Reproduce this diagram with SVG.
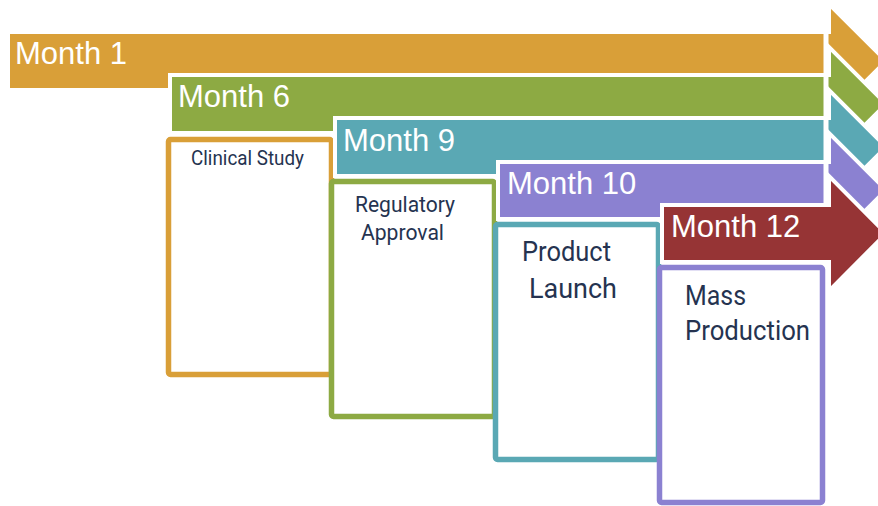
<svg xmlns="http://www.w3.org/2000/svg" width="878" height="506" viewBox="0 0 878 506">
<style>
.arrow{stroke:#fff;stroke-width:4;stroke-linejoin:miter}
.gap{stroke:#fff;stroke-width:5}
.box{fill:#fff;stroke-width:5.5;stroke-linejoin:round}
.lbl{font-family:"Liberation Sans",Arial,sans-serif;font-size:31px;fill:#fff}
.txt{font-family:Roboto,"Noto Sans",sans-serif;fill:#253350}
</style>
<rect width="878" height="506" fill="#fff"/>
<g id="month1">
<path class="arrow" fill="#D99F38" d="M8,32 H829 V4 L886,61 L829,118 V90 H8 Z"/>
<line class="gap" x1="826" y1="34" x2="826" y2="90"/>
<text class="lbl" x="15" y="64">Month 1</text>
</g>
<g id="month6">
<path class="arrow" fill="#8DAA43" d="M170,75 H829 V47 L886,104 L829,161 V133 H170 Z"/>
<line class="gap" x1="826" y1="77" x2="826" y2="133"/>
<text class="lbl" x="178" y="107">Month 6</text>
</g>
<g id="clinical">
<rect class="box" stroke="#D99F38" x="168.5" y="139.5" width="163" height="235" rx="2"/>
<text class="txt" x="191" y="165" font-size="21" textLength="113" lengthAdjust="spacingAndGlyphs">Clinical Study</text>
</g>
<g id="month9">
<path class="arrow" fill="#5AA8B4" d="M335,118 H829 V90 L886,147 L829,204 V176 H335 Z"/>
<line class="gap" x1="826" y1="120" x2="826" y2="176"/>
<text class="lbl" x="343" y="151">Month 9</text>
</g>
<g id="regulatory">
<rect class="box" stroke="#8DAA43" x="331.5" y="181.5" width="163" height="235" rx="2"/>
<text class="txt" x="355" y="212" font-size="22" textLength="100" lengthAdjust="spacingAndGlyphs">Regulatory</text>
<text class="txt" x="361" y="240" font-size="22" textLength="83" lengthAdjust="spacingAndGlyphs">Approval</text>
</g>
<g id="month10">
<path class="arrow" fill="#8B81D1" d="M498,162 H829 V133 L886,190 L829,247 V219 H498 Z"/>
<line class="gap" x1="826" y1="164" x2="826" y2="219"/>
<text class="lbl" x="507" y="194">Month 10</text>
</g>
<g id="launch">
<rect class="box" stroke="#5AA8B4" x="495.5" y="224.5" width="163" height="235" rx="2"/>
<text class="txt" x="522" y="261" font-size="27.5" textLength="89" lengthAdjust="spacingAndGlyphs">Product</text>
<text class="txt" x="529" y="298" font-size="27.5" textLength="88" lengthAdjust="spacingAndGlyphs">Launch</text>
</g>
<g id="month12">
<path class="arrow" fill="#963435" d="M662,205 H829 V176 L886,233.5 L829,291 V262 H662 Z"/>
<text class="lbl" x="671" y="237">Month 12</text>
</g>
<g id="production">
<rect class="box" stroke="#8B81D1" x="659.5" y="267.5" width="163" height="235" rx="2"/>
<text class="txt" x="685" y="305" font-size="28" textLength="61" lengthAdjust="spacingAndGlyphs">Mass</text>
<text class="txt" x="685" y="340" font-size="28" textLength="125" lengthAdjust="spacingAndGlyphs">Production</text>
</g>
<g id="connectors"/>
</svg>
